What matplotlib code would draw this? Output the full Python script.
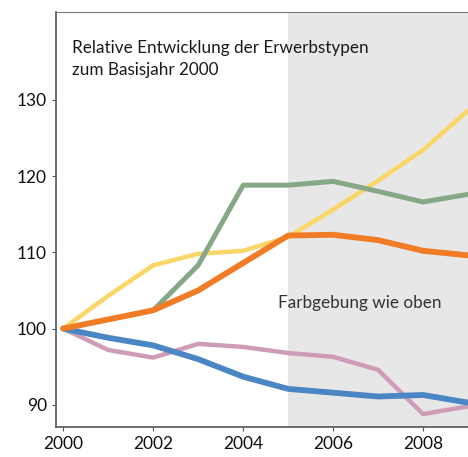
import matplotlib.pyplot as plt
import numpy as np

plt.rcParams['font.family'] = ['Lato', 'DejaVu Sans']

years = [2000, 2001, 2002, 2003, 2004, 2005, 2006, 2007, 2008, 2009]
yellow = [100, 104.3, 108.3, 109.8, 110.2, 112.0, 115.6, 119.4, 123.4, 128.6]
orange = [100, 101.2, 102.4, 105.0, 108.6, 112.2, 112.3, 111.6, 110.2, 109.6]
blue = [100, 98.8, 97.8, 96.0, 93.7, 92.1, 91.6, 91.1, 91.3, 90.3]
pink = [100, 97.2, 96.2, 98.0, 97.6, 96.8, 96.3, 94.6, 88.8, 89.8]
green_years = [2002, 2003, 2004, 2005, 2006, 2007, 2008, 2009]
green = [102.4, 108.3, 118.8, 118.8, 119.3, 118.0, 116.6, 117.6]

fig = plt.figure(figsize=(4.68, 4.57), dpi=100)
ax = fig.add_axes([0.1197, 0.0656, 0.8803, 0.9081])

ax.axvspan(2005, 2010, color='#e7e7e7', lw=0, zorder=0)

kw = dict(solid_capstyle='round', solid_joinstyle='round')
ax.plot(years, yellow, color='#fad666', lw=3.2, zorder=2, **kw)
ax.plot(green_years, green, color='#86a886', lw=3.6, zorder=2, **kw)
ax.plot(years, pink, color='#cf9cb8', lw=3.2, zorder=2, **kw)
ax.plot(years, blue, color='#4a86c4', lw=4.2, zorder=3, **kw)
ax.plot(years, orange, color='#f27b25', lw=4.2, zorder=4, **kw)

ax.set_xlim(1999.84, 2009.0)
ax.set_ylim(87.1, 141.5)
ax.set_xticks([2000, 2002, 2004, 2006, 2008])
ax.set_yticks([90, 100, 110, 120, 130])
ax.tick_params(labelsize=12.5, length=3, color='#555555', labelcolor='#111111')

for s in ['left', 'bottom']:
    ax.spines[s].set_color('#555555')
    ax.spines[s].set_linewidth(1.2)
ax.spines['top'].set_color('#777777')
ax.spines['right'].set_visible(False)

ax.text(2000.2, 135.3, 'Relative Entwicklung der Erwerbstypen\nzum Basisjahr 2000',
        fontsize=12.3, color='#1a1a1a', va='center', ha='left', linespacing=1.45)
ax.text(2004.78, 103.3, 'Farbgebung wie oben', fontsize=12.3, color='#333333',
        va='center', ha='left')

fig.savefig('out.png', dpi=100)
